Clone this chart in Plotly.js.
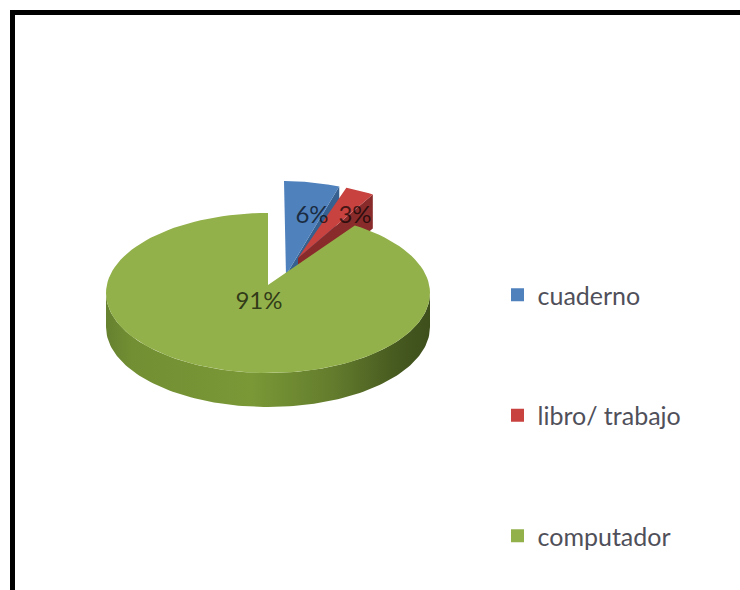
<!DOCTYPE html>
<html>
<head>
<meta charset="utf-8">
<script src="https://cdn.plot.ly/plotly-3.0.1.min.js"></script>
<style>html,body{margin:0;padding:0;background:#fff}</style>
</head>
<body>
<div id="chart" style="width:740px;height:590px"></div>
<script>
const categories = ["cuaderno", "libro/ trabajo", "computador"];
const percentages = [6, 3, 91];
const topColors = ["#4f81bd", "#c8423f", "#93b14b"];
const wallColors = ["#36608f", "#8a2b2b", "#6d8a30"];

const total = percentages.reduce((a, b) => a + b, 0);
const cum = [0];
percentages.forEach((v, i) => cum.push(cum[i] + v));
const ang = v => v / total * 2 * Math.PI;

// projected geometry of each (exploded) slice
const geom = [
  {cx: 284, cy: 261, rx: 150, ry: 80, ax: 286, ay: 275, lx: 312, ly: 217},
  {cx: 286, cy: 262, rx: 162, ry: 80, ax: 298, ay: 258, lx: 355, ly: 217},
  {cx: 268, cy: 293, rx: 162, ry: 80, ax: 268, ay: 285, lx: 259, ly: 303}
];
const depth = 34;

function rim(g, a0, a1, dy) {
  const xs = [], ys = [], n = 120;
  for (let k = 0; k <= n; k++) {
    const t = a0 + (a1 - a0) * k / n;
    xs.push(g.cx + g.rx * Math.sin(t));
    ys.push(g.cy - g.ry * Math.cos(t) + dy);
  }
  return [xs, ys];
}
function area(xs, ys, color, extra) {
  return Object.assign({type: "scatter", mode: "lines", x: xs, y: ys, fill: "toself",
    fillcolor: color, line: {width: 0}, hoverinfo: "skip", showlegend: false}, extra || {});
}

const traces = [];
// exploded slices: cut face then top
[0, 1].forEach(i => {
  const g = geom[i];
  const a1 = ang(cum[i + 1]);
  const [ex, ey] = rim(g, a1, a1, 0);
  traces.push(area([ex[0], g.ax, g.ax, ex[0]], [ey[0], g.ay, g.ay + depth, ey[0] + depth], wallColors[i]));
  const [rx, ry] = rim(g, ang(cum[i]), a1, 0);
  traces.push(area([g.ax].concat(rx), [g.ay].concat(ry), topColors[i]));
});
// big slice: outer wall then top
const big = geom[2];
const [wx, wy] = rim(big, Math.PI / 2, 3 * Math.PI / 2, 0);
const [bx, by] = rim(big, Math.PI / 2, 3 * Math.PI / 2, depth);
traces.push(area(wx.concat(bx.slice().reverse()), wy.concat(by.slice().reverse()), wallColors[2], {
  fillgradient: {type: "horizontal", colorscale: [
    [0, "#66812f"], [0.08, "#728f33"], [0.45, "#7a9836"], [0.7, "#637c2d"], [0.9, "#46591f"], [1, "#3e4f1c"]
  ]}
}));
const [sx, sy] = rim(big, ang(cum[2]), ang(cum[3]), 0);
traces.push(area([big.ax].concat(sx), [big.ay].concat(sy), topColors[2]));

// percentage labels
percentages.forEach((v, i) => {
  traces.push({type: "scatter", mode: "text", x: [geom[i].lx], y: [geom[i].ly], text: [v + "%"],
    textposition: "middle center", textfont: {family: "Lato, sans-serif", size: 24, color: "rgba(0,0,0,0.68)"},
    hoverinfo: "skip", showlegend: false});
});
// legend entries
categories.forEach((c, i) => {
  traces.push({type: "scatter", mode: "markers", x: [null], y: [null], name: c, legendgroup: c,
    marker: {symbol: "square", size: 13, color: topColors[i]}, showlegend: true});
});

const layout = {
  width: 740, height: 590, autosize: false,
  margin: {l: 0, r: 0, t: 0, b: 0},
  paper_bgcolor: "#ffffff", plot_bgcolor: "#ffffff",
  xaxis: {range: [0, 740], visible: false, fixedrange: true},
  yaxis: {range: [590, 0], visible: false, fixedrange: true},
  legend: {x: 497.5 / 740, y: 1 - 272 / 590, xanchor: "left", yanchor: "top", traceorder: "grouped",
    tracegroupgap: 85, itemwidth: 30, bgcolor: "rgba(0,0,0,0)",
    font: {family: "Lato, sans-serif", size: 25, color: "#50505a"}},
  shapes: [{type: "path", xref: "x", yref: "y", path: "M 12.5 600 L 12.5 12.5 L 750 12.5",
    line: {color: "#000000", width: 5}}]
};
Plotly.newPlot("chart", traces, layout, {displayModeBar: false, staticPlot: true});
</script>
</body>
</html>
